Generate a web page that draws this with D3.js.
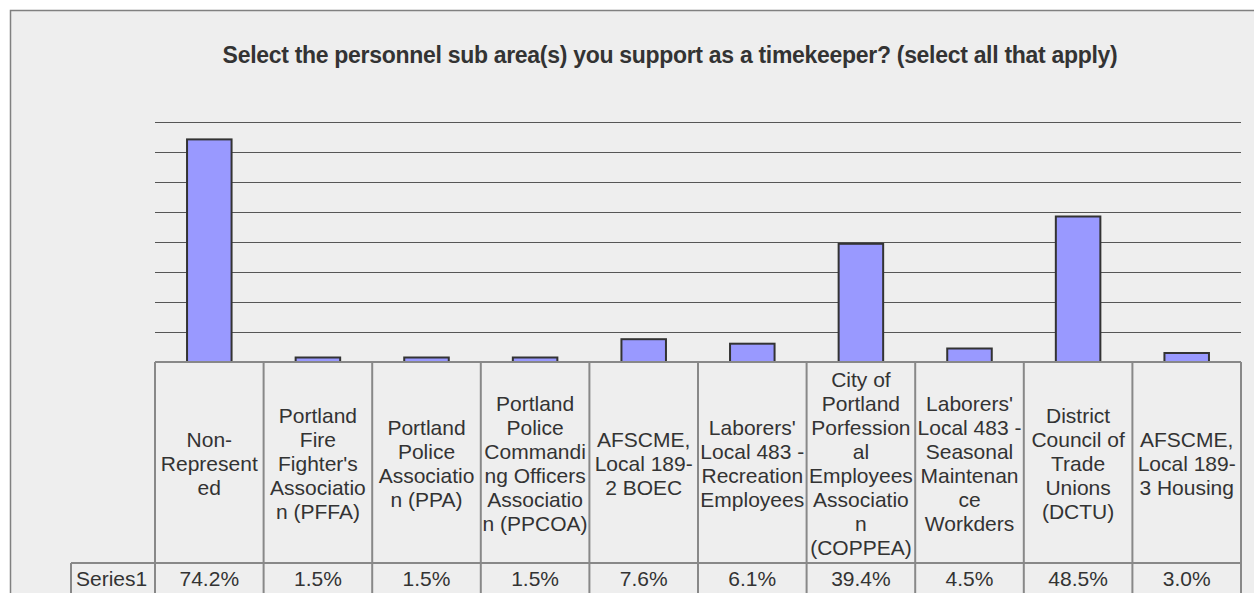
<!DOCTYPE html>
<html lang="en">
<head>
  <meta charset="utf-8" />
  <title>Personnel sub areas - timekeepers</title>
  <script src="https://d3js.org/d3.v7.min.js"></script>
  <style>
    html, body {
      margin: 0;
      padding: 0;
      background: #fff;
      overflow: hidden;
      font-family: "Liberation Sans", Arial, sans-serif;
    }
    .grid line { stroke: #555; stroke-width: 1px; }
    .bar { fill: #9999ff; stroke: #333; stroke-width: 2px; }
    .cell { stroke: #888; stroke-width: 2px; fill: none; }
    .lbl { fill: #333; font-size: 21px; text-anchor: middle; }
  </style>
</head>
<body>
<script>
// chart title
const title = "Select the personnel sub area(s) you support as a timekeeper? (select all that apply)";

// categories, already broken into lines the way the table wraps them
const categories = [
  "Non-Represented",
  "Portland Fire Fighter's Association (PFFA)",
  "Portland Police Association (PPA)",
  "Portland Police Commanding Officers Association (PPCOA)",
  "AFSCME, Local 189-2 BOEC",
  "Laborers' Local 483 - Recreation Employees",
  "City of Portland Porfessional Employees Association (COPPEA)",
  "Laborers' Local 483 - Seasonal Maintenance Workders",
  "District Council of Trade Unions (DCTU)",
  "AFSCME, Local 189-3 Housing"
];
const labelLines = [
  ["Non-", "Represent", "ed"],
  ["Portland", "Fire", "Fighter's", "Associatio", "n (PFFA)"],
  ["Portland", "Police", "Associatio", "n (PPA)"],
  ["Portland", "Police", "Commandi", "ng Officers", "Associatio", "n (PPCOA)"],
  ["AFSCME,", "Local 189-", "2 BOEC"],
  ["Laborers'", "Local 483 -", "Recreation", "Employees"],
  ["City of", "Portland", "Porfession", "al", "Employees", "Associatio", "n", "(COPPEA)"],
  ["Laborers'", "Local 483 -", "Seasonal", "Maintenan", "ce", "Workders"],
  ["District", "Council of", "Trade", "Unions", "(DCTU)"],
  ["AFSCME,", "Local 189-", "3 Housing"]
];
const seriesName = "Series1";
const values = [74.2, 1.5, 1.5, 1.5, 7.6, 6.1, 39.4, 4.5, 48.5, 3.0];
const gridTicks = [10, 20, 30, 40, 50, 60, 70, 80];

const width = 1254, height = 593;
const plot = { left: 155, right: 1241, top: 122, bottom: 362 };
const headerBottom = 563;
const seriesLeft = 71;

const svg = d3.select("body").append("svg")
  .attr("width", width)
  .attr("height", height);

// background + outer frame
svg.append("rect").attr("width", width).attr("height", height).attr("fill", "#fff");
svg.append("rect")
  .attr("x", 10.5).attr("y", 10.5)
  .attr("width", width + 50).attr("height", height + 50)
  .attr("fill", "#eeeeee")
  .attr("stroke", "#808080").attr("stroke-width", 1.5);

svg.append("text")
  .attr("x", 670).attr("y", 63)
  .attr("text-anchor", "middle")
  .attr("fill", "#333")
  .style("font-size", "23px")
  .style("font-weight", "bold")
  .style("letter-spacing", "-0.3px")
  .text(title);

const x = d3.scaleBand().domain(categories).range([plot.left, plot.right]).padding(0);
const y = d3.scaleLinear().domain([0, 80]).range([plot.bottom, plot.top]);

// gridlines
svg.append("g").attr("class", "grid")
  .selectAll("line").data(gridTicks).enter().append("line")
  .attr("x1", plot.left).attr("x2", plot.right)
  .attr("y1", d => Math.round(y(d)) + 0.5)
  .attr("y2", d => Math.round(y(d)) + 0.5);

// bars
const barW = x.bandwidth() * 0.41;
svg.append("g").selectAll("rect").data(values).enter().append("rect")
  .attr("class", "bar")
  .attr("x", (d, i) => x(categories[i]) + (x.bandwidth() - barW) / 2)
  .attr("y", d => y(d))
  .attr("width", barW)
  .attr("height", d => y(0) - y(d));

// data table
const table = svg.append("g");
table.append("line").attr("class", "cell")
  .attr("x1", plot.left).attr("x2", plot.right)
  .attr("y1", plot.bottom).attr("y2", plot.bottom);
table.append("line").attr("class", "cell")
  .attr("x1", seriesLeft).attr("x2", plot.right)
  .attr("y1", headerBottom).attr("y2", headerBottom);
table.append("line").attr("class", "cell")
  .attr("x1", seriesLeft).attr("x2", seriesLeft)
  .attr("y1", headerBottom).attr("y2", height + 10);

const edges = categories.map(c => x(c)).concat([plot.right]);
table.selectAll(".vline").data(edges).enter().append("line")
  .attr("class", "cell")
  .attr("x1", d => d).attr("x2", d => d)
  .attr("y1", plot.bottom).attr("y2", height + 10);

// header labels, vertically centred in the header row
const lineH = 24;
const midY = (plot.bottom + headerBottom) / 2;
categories.forEach((c, i) => {
  const lines = labelLines[i];
  const t = table.append("text").attr("class", "lbl");
  lines.forEach((ln, j) => {
    t.append("tspan")
      .attr("x", x(c) + x.bandwidth() / 2)
      .attr("y", midY + (j - (lines.length - 1) / 2) * lineH + 8)
      .text(ln);
  });
});

// value row
table.append("text")
  .attr("x", seriesLeft + 5).attr("y", 586)
  .attr("fill", "#333").style("font-size", "21px")
  .text(seriesName);
table.selectAll(".val").data(values).enter().append("text")
  .attr("class", "lbl")
  .attr("x", (d, i) => x(categories[i]) + x.bandwidth() / 2)
  .attr("y", 586)
  .text(d => d.toFixed(1) + "%");
</script>
</body>
</html>
